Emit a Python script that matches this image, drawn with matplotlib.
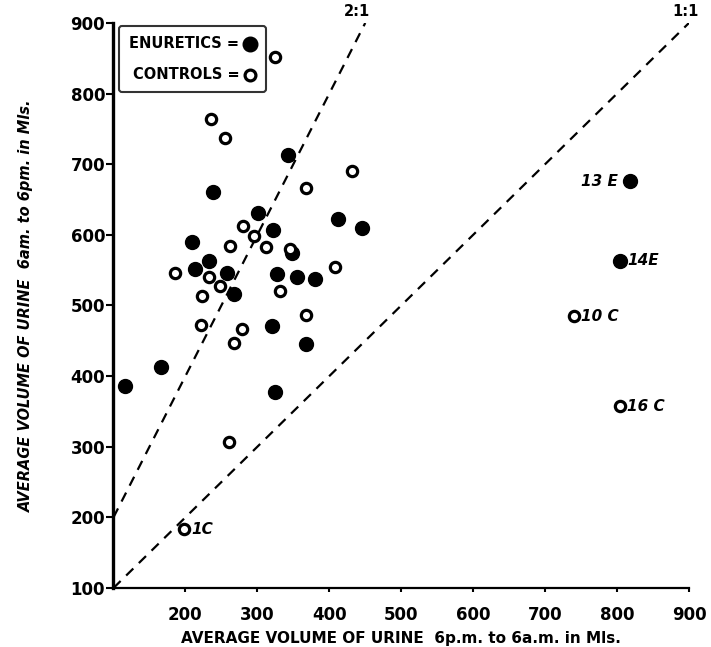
import matplotlib
matplotlib.use("Agg")
import matplotlib.pyplot as plt

# Enuretics (filled circles): night (6pm-6am) vs day (6am-6pm) volumes
enur_x = [343, 238, 301, 322, 412, 446, 209, 233, 213, 258, 348, 327, 355, 380,
          268, 320, 367, 166, 116, 325, 818, 804]
enur_y = [713, 660, 631, 607, 622, 610, 590, 563, 551, 546, 574, 544, 540, 538,
          516, 471, 446, 413, 386, 378, 676, 563]

# Controls (open circles)
ctrl_x = [236, 255, 325, 432, 367, 280, 296, 262, 312, 345, 185, 233, 248, 223,
          331, 408, 367, 222, 279, 268, 261, 198, 740, 804]
ctrl_y = [764, 737, 852, 690, 667, 613, 599, 584, 583, 580, 546, 540, 528, 514,
          521, 554, 486, 472, 467, 447, 307, 183, 485, 357]

# Annotated subjects
ann_text = ["13 E", "14E", "10 C", "16 C", "1C"]
ann_x = [818, 804, 740, 804, 198]
ann_y = [676, 563, 485, 357, 183]
ann_side = ["left", "right", "right", "right", "right"]

x_ticks = [200, 300, 400, 500, 600, 700, 800, 900]
y_ticks = [100, 200, 300, 400, 500, 600, 700, 800, 900]

fig = plt.figure(figsize=(7.11, 6.47), dpi=100)
ax = fig.add_axes([0.1596, 0.0912, 0.8094, 0.8733])
ax.set_xlim(100, 900)
ax.set_ylim(100, 900)

for s in ["top", "right"]:
    ax.spines[s].set_visible(False)
ax.spines["left"].set_linewidth(2.4)
ax.spines["bottom"].set_linewidth(1.6)

# reference lines 1:1 and 2:1
ax.plot([100, 900], [100, 900], ls=(0, (4.5, 3.5)), color="black", lw=1.6)
ax.plot([100, 450], [200, 900], ls=(0, (4.5, 3.5)), color="black", lw=1.6)
ax.text(439, 905, "2:1", fontsize=10.5, fontweight="bold", ha="center", va="bottom",
        clip_on=False)
ax.text(895, 905, "1:1", fontsize=10.5, fontweight="bold", ha="center", va="bottom",
        clip_on=False)

ax.scatter(enur_x, enur_y, s=100, c="black", edgecolors="black", zorder=3,
           label="ENURETICS =")
ax.scatter(ctrl_x, ctrl_y, s=55, facecolors="white", edgecolors="black",
           linewidths=2.3, zorder=4, label="CONTROLS =")

for t, x, y, side in zip(ann_text, ann_x, ann_y, ann_side):
    if side == "left":
        ax.annotate(t, (x, y), xytext=(-9, 0), textcoords="offset points",
                    ha="right", va="center", fontsize=11, fontweight="bold",
                    fontstyle="italic")
    else:
        ax.annotate(t, (x, y), xytext=(5, 0), textcoords="offset points",
                    ha="left", va="center", fontsize=11, fontweight="bold",
                    fontstyle="italic")

ax.set_xticks(x_ticks)
ax.set_yticks(y_ticks)
ax.set_xticklabels([str(v) for v in x_ticks], fontsize=12, fontweight="bold")
ax.set_yticklabels([str(v) for v in y_ticks], fontsize=12, fontweight="bold")
ax.tick_params(axis="x", direction="out", length=3, width=1.5, pad=10)
ax.tick_params(axis="y", direction="out", length=5, width=1.5, pad=1)

ax.set_xlabel("AVERAGE VOLUME OF URINE  6p.m. to 6a.m. in Mls.", fontsize=11,
              fontweight="bold", labelpad=5)
ax.set_ylabel("AVERAGE VOLUME OF URINE  6am. to 6pm. in Mls.", fontsize=10.5,
              fontweight="bold", fontstyle="italic", labelpad=26)

leg = ax.legend(loc="upper left", bbox_to_anchor=(0.01, 0.995), markerfirst=False,
                frameon=True, fancybox=True, edgecolor="black", fontsize=10.5,
                handletextpad=0.3, borderpad=0.7, labelspacing=1.1,
                handlelength=0.8, borderaxespad=0.0, markerscale=1.05)
leg.get_frame().set_linewidth(1.5)
for t in leg.get_texts():
    t.set_fontweight("bold")

fig.savefig("out.png", dpi=100)
